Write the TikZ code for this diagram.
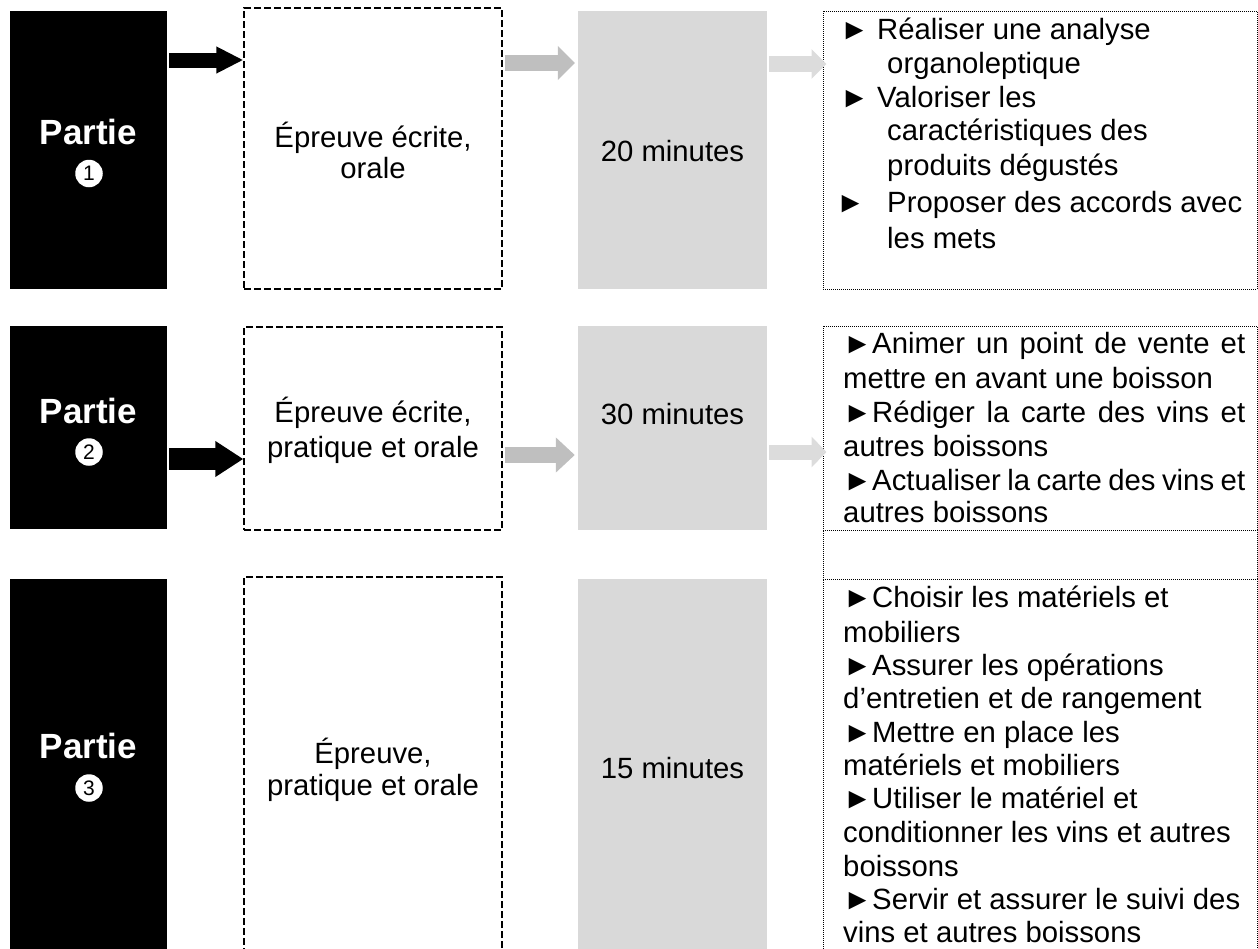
\documentclass[tikz,border=0pt]{standalone}
\usepackage{fontspec}
\setmainfont{Liberation Sans}
\usetikzlibrary{arrows.meta,fit}
\newcommand\myline[4]{\node[txt] (#1) at (#2,#3) {#4};}
\newcommand\myctrline[4]{\node[ctr] (#1) at (#2,#3) {#4};}
\begin{document}
\begin{tikzpicture}[x=1pt,y=-1pt,
  txt/.style={font=\fontsize{29.3}{33.5}\selectfont, inner sep=0pt, anchor=base west},
  ctr/.style={font=\fontsize{29.3}{33.5}\selectfont, inner sep=0pt, anchor=base},
  blackbox/.style={fill=black, draw=none, inner sep=0pt},
  dashbox/.style={draw=black, line width=1.3pt, dash pattern=on 7pt off 3pt, inner sep=0pt},
  greybox/.style={fill=boxgrey, draw=none, inner sep=0pt},
  dotbox/.style={draw=black, line width=1pt, dash pattern=on 1pt off 1pt, inner sep=0pt},
  partie/.style={font=\fontsize{35}{38}\bfseries\selectfont, text=white, inner sep=0pt, anchor=base},
  num/.style={circle, fill=white, minimum size=27.5pt, inner sep=0pt, font=\fontsize{21}{21}\selectfont},
  blockarrow/.style={line cap=butt, shorten <=2pt},
]
\definecolor{boxgrey}{HTML}{D9D9D9}
\definecolor{arrgrey}{HTML}{BFBFBF}
\definecolor{arrlight}{HTML}{DCDCDC}
\useasboundingbox (0,0) rectangle (1258,948);

% ---- boxes
\node[blackbox, fit={(10,11) (167,289)}] (b1) {};
\node[blackbox, fit={(10,326) (167,529)}] (b2) {};
\node[blackbox, fit={(10,579) (167,960)}] (b3) {};

\node[dashbox, fit={(244,8) (502,289)}] (w1) {};
\node[dashbox, fit={(244,327) (502,530)}] (w2) {};
\node[dashbox, fit={(244,577) (502,960)}] (w3) {};

\node[greybox, fit={(578,11) (767,289)}] (g1) {};
\node[greybox, fit={(578,326) (767,530)}] (g2) {};
\node[greybox, fit={(578,579) (767,960)}] (g3) {};

\node[dotbox, fit={(823,11) (1257,289)}] (r1) {};
\node[dotbox, fit={(823,326) (1257,530)}] (r2) {};
\node[dotbox, fit={(823,530) (1257,579)}] (r2b) {};
\node[dotbox, fit={(823,579) (1257,960)}] (r3) {};

% ---- arrows
\draw[blockarrow, draw=black, line width=15pt, -{Triangle[length=27pt,width=25pt]}]
  (b1.east |- 0,60) -- (w1.west |- 0,60);
\draw[blockarrow, draw=black, line width=22pt, -{Triangle[length=28pt,width=34pt]}]
  (b2.east |- 0,459) -- (w2.west |- 0,459);
\draw[blockarrow, draw=arrgrey, line width=16pt, shorten >=3pt, -{Triangle[length=17pt,width=33pt]}]
  (w1.east |- 0,63) -- (g1.west |- 0,63);
\draw[blockarrow, draw=arrgrey, line width=16pt, shorten >=3pt, -{Triangle[length=19pt,width=34pt]}]
  (w2.east |- 0,455) -- (g2.west |- 0,455);
\draw[blockarrow, draw=arrlight, line width=16pt, shorten >=-4pt, -{Triangle[length=15pt,width=29pt]}]
  (g1.east |- 0,64) -- (r1.west |- 0,64);
\draw[blockarrow, draw=arrlight, line width=15pt, shorten >=-4pt, -{Triangle[length=15pt,width=30pt]}]
  (g2.east |- 0,452) -- (r2.west |- 0,452);

% ---- Partie labels
\node[partie] (p1) at (88.5,144) {Partie};
\node[num] (n1) at (89,173.5) {1};
\node[partie] (p2) at (88.5,423) {Partie};
\node[num] (n2) at (89,452) {2};
\node[partie] (p3) at (88.5,758) {Partie};
\node[num] (n3) at (89,788) {3};

% ---- epreuve texts
\myctrline{e1a}{373}{147}{Épreuve écrite,}
\myctrline{e1b}{373}{178}{orale}
\myctrline{e2a}{373}{422}{Épreuve écrite,}
\myctrline{e2b}{373}{457}{pratique et orale}
\myctrline{e3a}{373}{763}{Épreuve,}
\myctrline{e3b}{373}{795}{pratique et orale}

% ---- durations
\myctrline{d1}{672.5}{161}{20 minutes}
\myctrline{d2}{672.5}{424}{30 minutes}
\myctrline{d3}{672.5}{778}{15 minutes}

% ---- row 1 competences
\myline{a1}{840}{39}{►}
\myline{a1t}{877}{39}{Réaliser une analyse}
\myline{a2}{887}{73}{organoleptique}
\myline{a3}{840}{107}{►}
\myline{a3t}{877}{107}{Valoriser les}
\myline{a4}{887}{140}{caractéristiques des}
\myline{a5}{887}{175}{produits dégustés}
\myline{a6}{836}{212}{►}
\myline{a6t}{887}{212}{Proposer des accords avec}
\myline{a7}{887}{248}{les mets}

% ---- row 2 competences
\myline{c1}{843}{353}{\makebox[402pt][s]{►Animer un point de vente et}}
\myline{c2}{843}{388}{mettre en avant une boisson}
\myline{c3}{843}{422}{\makebox[402pt][s]{►Rédiger la carte des vins et}}
\myline{c4}{843}{456}{autres boissons}
\myline{c5}{843}{490}{\makebox[402pt][s]{►Actualiser la carte des vins et}}
\myline{c6}{843}{522}{autres boissons}

% ---- row 3 competences
\myline{f1}{843}{607}{►Choisir les matériels et}
\myline{f2}{843}{642}{mobiliers}
\myline{f3}{843}{675}{►Assurer les opérations}
\myline{f4}{843}{708}{d’entretien et de rangement}
\myline{f5}{843}{742}{►Mettre en place les}
\myline{f6}{843}{775}{matériels et mobiliers}
\myline{f7}{843}{808}{►Utiliser le matériel et}
\myline{f8}{843}{842}{conditionner les vins et autres}
\myline{f9}{843}{876}{boissons}
\myline{f10}{843}{909}{►Servir et assurer le suivi des}
\myline{f11}{843}{942}{vins et autres boissons}
\end{tikzpicture}
\end{document}
